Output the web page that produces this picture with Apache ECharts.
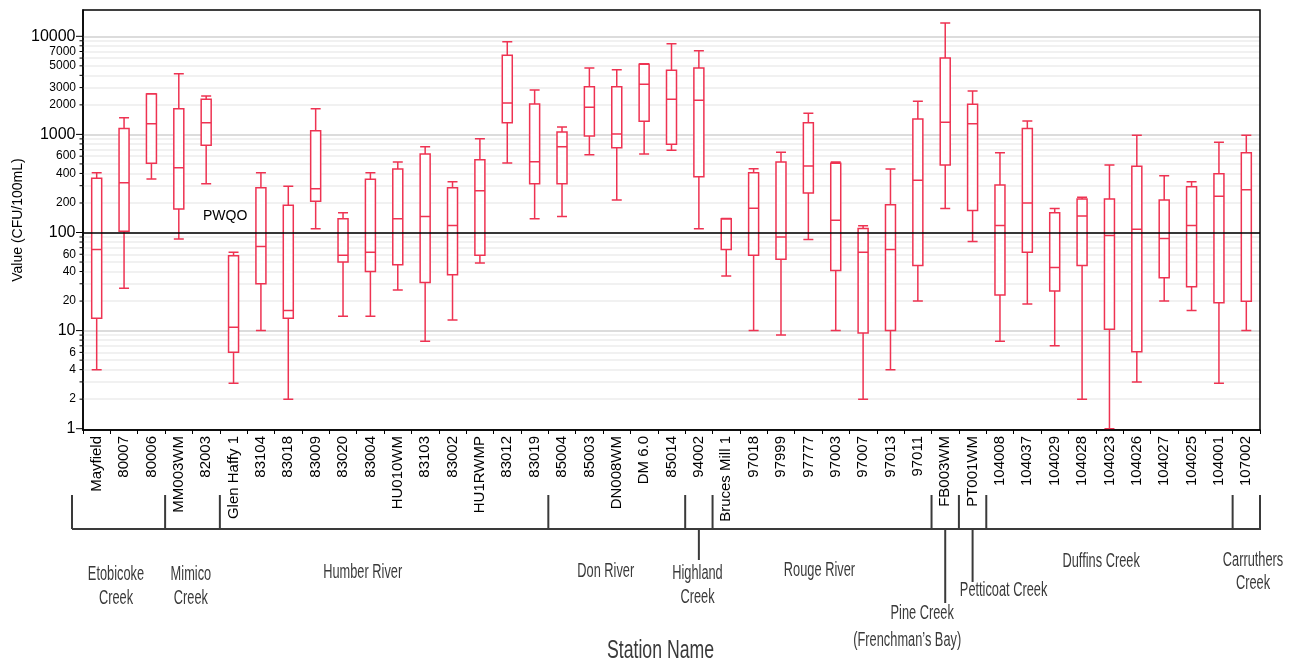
<!DOCTYPE html>
<html>
<head>
<meta charset="utf-8">
<script src="https://cdn.jsdelivr.net/npm/echarts@6/dist/echarts.min.js"></script>
<style>
html,body{margin:0;padding:0;background:#fff;}
#c{width:1295px;height:662px;}
</style>
</head>
<body>
<div id="c"></div>
<script>
// ---------------- DATA ----------------
const stations = ['Mayfield','80007','80006','MM003WM','82003','Glen Haffy 1','83104','83018','83009','83020','83004','HU010WM','83103','83002','HU1RWMP','83012','83019','85004','85003','DN008WM','DM 6.0','85014','94002','Bruces Mill 1','97018','97999','97777','97003','97007','97013','97011','FB003WM','PT001WM','104008','104037','104029','104028','104023','104026','104027','104025','104001','107002'];
const whiskerLow  = [4, 27, 351, 86, 314, 2.9, 10, 2, 109, 14, 14, 26, 7.8, 12.8, 49, 511, 138, 146, 621, 214, 631, 689, 109, 36, 10, 9, 85, 10, 2, 4, 20, 176, 81, 7.8, 18.7, 7, 2, 1, 3, 20, 16, 2.9, 10];
const quartile1   = [13.4, 103, 508, 174, 774, 6, 30, 13.4, 208, 50, 40, 47, 31, 37, 58.5, 1316, 314, 314, 964, 731, 1360, 792, 371, 67, 58.5, 53.5, 253, 41, 9.45, 10, 46, 488, 168, 23, 63, 25.3, 46, 10.3, 6.1, 34.6, 28, 19.2, 19.9];
const medianVal   = [67, 322, 1285, 458, 1316, 10.8, 72, 16, 280, 58.5, 63, 138, 146, 118, 267, 2090, 527, 750, 1890, 1009, 3240, 2280, 2225, 137, 177, 90, 476, 133, 63, 67, 341, 1328, 1285, 118, 200, 44, 147, 93, 108, 87, 118, 234, 273];
const quartile3   = [357, 1150, 2580, 1830, 2280, 58, 286, 190, 1090, 138, 349, 444, 631, 286, 552, 6400, 2040, 1060, 3060, 3060, 5180, 4500, 4750, 138, 407, 523, 1316, 508, 110, 192, 1435, 6010, 2030, 305, 1150, 159, 220, 220, 473, 214, 293, 398, 651];
const whiskerHigh = [407, 1480, 2590, 4160, 2470, 63, 407, 296, 1830, 159, 407, 523, 750, 330, 904, 8810, 2840, 1190, 4750, 4570, 5260, 8410, 7130, 139, 447, 656, 1640, 523, 117, 444, 2175, 13680, 2770, 651, 1370, 176, 229, 488, 979, 379, 330, 830, 979];

const groupNames  = ['Etobicoke\nCreek', 'Mimico\nCreek', 'Humber River', 'Don River', 'Highland\nCreek', 'Rouge River', 'Pine Creek\n(Frenchman\u2019s Bay)', 'Petticoat Creek', 'Duffins Creek', 'Carruthers\nCreek'];
const groupCounts = [3, 2, 12, 5, 1, 8, 1, 1, 9, 1];

const pwqo = 100;
const majorTickValues = [1, 10, 100, 1000, 10000];
const minorTickValues = [2,3,4,5,6,7,8,9,20,30,40,50,60,70,80,90,200,300,400,500,600,700,800,900,2000,3000,4000,5000,6000,7000,8000,9000];
const minorTickLabels = [2, 4, 6, 20, 40, 60, 200, 400, 600, 2000, 3000, 5000, 7000];

// ---------------- LAYOUT / STYLE ----------------
const RED = '#ee3352';
const FONT = 'Liberation Sans, Arial, sans-serif';
const GRID = {left: 83, right: 35, top: 10, bottom: 232};
const Y_MIN = 0.97, Y_MAX = 18540;
// per-group label layout: dx from group centre, y of first line, and drop line end (for single-station groups)
const groupLayout = [
  {dx: -2.6, y: 574, lh: 24},
  {dx: -1.6, y: 574, lh: 24},
  {dx: -21.4, y: 572},
  {dx: -11, y: 571},
  {dx: -1.4, y: 573, lh: 24, drop: 560},
  {dx: -2.6, y: 570},
  {lines: [{dx: -23, y: 613}, {dx: -38, y: 640}], drop: 603},
  {dx: 31, y: 590, drop: 582},
  {dx: -8.3, y: 561},
  {dx: 6.7, y: 560, lh: 23}
];

const boxData = stations.map((s, i) => [whiskerLow[i], quartile1[i], medianVal[i], quartile3[i], whiskerHigh[i]]);
const gridValues = majorTickValues.filter(v => v > 1).concat(minorTickValues);

const chart = echarts.init(document.getElementById('c'), null, {renderer: 'canvas'});
const option = {
  animation: false,
  backgroundColor: '#fff',
  grid: Object.assign({show: false}, GRID),
  xAxis: {
    type: 'category',
    data: stations,
    boundaryGap: true,
    axisLine: {show: true, lineStyle: {color: '#000', width: 1.5}},
    axisTick: {show: true, length: 4, interval: 0, lineStyle: {color: '#000'}},
    axisLabel: {interval: 0, rotate: 90, margin: 6, fontSize: 15, color: '#000', fontFamily: FONT},
    splitLine: {show: false}
  },
  yAxis: {
    type: 'log',
    logBase: 10,
    min: Y_MIN,
    max: Y_MAX,
    axisLine: {show: true, lineStyle: {color: '#000', width: 1.5}},
    axisTick: {show: false},
    axisLabel: {show: false},
    splitLine: {show: false}
  },
  series: [
    {
      type: 'boxplot',
      data: boxData,
      boxWidth: [10, 10],
      z: 3,
      itemStyle: {color: '#fff', borderColor: RED, borderWidth: 1.5},
      emphasis: {disabled: true},
      markLine: {
        silent: true,
        z: 1,
        symbol: ['none', 'none'],
        label: {show: false},
        emphasis: {disabled: true},
        data: gridValues.map(v => ({
          yAxis: v,
          lineStyle: {color: majorTickValues.indexOf(v) >= 0 ? '#d0d0d0' : '#ececec', width: 1.5, type: 'solid'}
        }))
      }
    },
    {
      type: 'line',
      data: [],
      silent: true,
      markLine: {
        silent: true,
        z: 6,
        symbol: ['none', 'none'],
        label: {show: false},
        emphasis: {disabled: true},
        lineStyle: {color: '#000', width: 1.5, type: 'solid'},
        data: [{yAxis: pwqo}]
      }
    }
  ]
};
chart.setOption(option);

// ---------------- ANNOTATIONS (positions via the chart's own scales) ----------------
function yPx(v) { return chart.convertToPixel({yAxisIndex: 0}, v); }
function xPx(i) { return chart.convertToPixel({xAxisIndex: 0}, i); }
const band = xPx(1) - xPx(0);
function boundary(k) { return xPx(0) - band / 2 + k * band; }
const axisX = boundary(0);
const rightEnd = boundary(stations.length);
const elements = [];

// plot frame (on top of grid lines)
elements.push({type: 'rect', z: 100, shape: {x: axisX, y: yPx(Y_MAX), width: rightEnd - axisX, height: yPx(Y_MIN) - yPx(Y_MAX)},
  style: {fill: 'none', stroke: '#000', lineWidth: 1.5}});

// y ticks and labels
majorTickValues.forEach(v => {
  const y = yPx(v);
  elements.push({type: 'line', shape: {x1: axisX - 7, y1: y, x2: axisX, y2: y}, style: {stroke: '#000', lineWidth: 1}});
  elements.push({type: 'text', x: axisX - 7.5, y: y, style: {text: String(v), font: '16px ' + FONT, fill: '#000', align: 'right', verticalAlign: 'middle', textAlign: 'right', textVerticalAlign: 'middle'}});
});
minorTickValues.forEach(v => {
  const y = yPx(v);
  elements.push({type: 'line', shape: {x1: axisX - 3.5, y1: y, x2: axisX, y2: y}, style: {stroke: '#000', lineWidth: 1}});
});
minorTickLabels.forEach(v => {
  const y = yPx(v);
  elements.push({type: 'text', x: axisX - 7, y: y, style: {text: String(v), font: '12px ' + FONT, fill: '#000', align: 'right', verticalAlign: 'middle', textAlign: 'right', textVerticalAlign: 'middle'}});
});

// y axis title
elements.push({type: 'text', x: 18, y: (yPx(Y_MIN) + yPx(Y_MAX)) / 2, rotation: Math.PI / 2,
  style: {text: 'Value (CFU/100mL)', font: '14px ' + FONT, fill: '#000', align: 'center', verticalAlign: 'middle', textAlign: 'center', textVerticalAlign: 'middle'}});

// PWQO label
elements.push({type: 'text', x: axisX + 120, y: yPx(pwqo) - 16,
  style: {text: 'PWQO', font: '14px ' + FONT, fill: '#000', align: 'left', verticalAlign: 'middle', textAlign: 'left', textVerticalAlign: 'middle'}});

// group brackets
const bracketY = 529, tickTop = 495;
const leftEnd = axisX - 11;
const BR = {stroke: '#3a3a3a', lineWidth: 2};
elements.push({type: 'line', shape: {x1: leftEnd, y1: bracketY, x2: rightEnd + 1, y2: bracketY}, style: BR});
let start = 0;
const condensed = (txt, x, y, size, sx, lh) => ({
  type: 'text', x: x, y: y, scaleX: sx,
  style: {text: txt, font: size + 'px ' + FONT, fill: '#3a3a3a', lineHeight: lh || size,
          align: 'center', verticalAlign: 'middle', textAlign: 'center', textVerticalAlign: 'middle'}
});
groupCounts.forEach((cnt, g) => {
  const x0 = g === 0 ? leftEnd : boundary(start);
  const x1 = boundary(start + cnt);
  const lay = groupLayout[g];
  elements.push({type: 'line', shape: {x1: x0, y1: tickTop, x2: x0, y2: bracketY}, style: BR});
  if (g === groupCounts.length - 1) {
    elements.push({type: 'line', shape: {x1: x1, y1: tickTop, x2: x1, y2: bracketY}, style: BR});
  }
  const cx = cnt === 1 ? xPx(start) : (x0 + x1) / 2;
  if (lay.drop) {
    elements.push({type: 'line', shape: {x1: cx, y1: bracketY, x2: cx, y2: lay.drop}, style: BR});
  }
  if (lay.lines) {
    groupNames[g].split('\n').forEach((t, j) => {
      elements.push(condensed(t, cx + lay.lines[j].dx, lay.lines[j].y, 20, 0.64));
    });
  } else {
    groupNames[g].split('\n').forEach((t, j) => {
      elements.push(condensed(t, cx + lay.dx, lay.y + j * (lay.lh || 24), 20, 0.64));
    });
  }
  start += cnt;
});

// x axis title
elements.push(condensed('Station Name', (axisX + rightEnd) / 2 - 11, 651, 26, 0.68));

chart.setOption({graphic: {elements: elements}});
</script>
</body>
</html>
